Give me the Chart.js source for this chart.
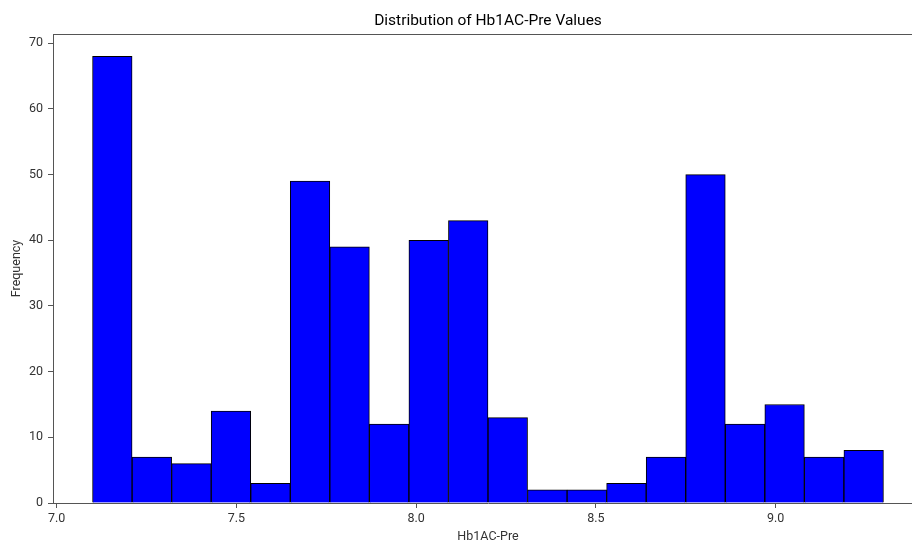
<!DOCTYPE html>
<html lang="en">
<head>
    <meta charset="UTF-8">
    <title>Distribution of Hb1AC-Pre Values</title>
    <script src="https://cdn.jsdelivr.net/npm/chart.js"></script>
    <style>
        html, body { margin: 0; padding: 0; overflow: hidden; background: #fff; }
    </style>
</head>
<body>
    <canvas id="histChart" width="976" height="545"></canvas>

    <script>
        // histogram bins (edges) and counts
        const binEdges = [7.10, 7.21, 7.32, 7.43, 7.54, 7.65, 7.76, 7.87, 7.98, 8.09, 8.20,
                          8.31, 8.42, 8.53, 8.64, 8.75, 8.86, 8.97, 9.08, 9.19, 9.30];
        const counts = [68, 7, 6, 14, 3, 49, 39, 12, 40, 43, 13, 2, 2, 3, 7, 50, 12, 15, 7, 8];
        const xTicks = [7.0, 7.5, 8.0, 8.5, 9.0];
        const yTicks = [0, 10, 20, 30, 40, 50, 60, 70];

        const axisColor = '#555';
        const textColor = '#333';
        const fontFamily = 'Roboto';

        const points = counts.map((c, i) => ({ x: (binEdges[i] + binEdges[i + 1]) / 2, y: c }));

        // top spine (matplotlib box)
        const topSpine = {
            id: 'topSpine',
            afterDraw(chart) {
                const { ctx, chartArea } = chart;
                ctx.save();
                ctx.strokeStyle = axisColor;
                ctx.lineWidth = 1;
                ctx.beginPath();
                ctx.moveTo(chartArea.left, chartArea.top + 0.5);
                ctx.lineTo(chartArea.right, chartArea.top + 0.5);
                ctx.stroke();
                ctx.restore();
            }
        };

        const ctx = document.getElementById('histChart').getContext('2d');
        new Chart(ctx, {
            type: 'bar',
            data: {
                datasets: [{
                    data: points,
                    backgroundColor: '#0000ff',
                    borderColor: '#000',
                    borderWidth: 1,
                    barPercentage: 1,
                    categoryPercentage: 1
                }]
            },
            options: {
                responsive: false,
                animation: false,
                layout: { padding: 0 },
                plugins: {
                    legend: { display: false },
                    tooltip: { enabled: false },
                    title: {
                        display: true,
                        text: 'Distribution of Hb1AC-Pre Values',
                        color: '#000',
                        font: { family: fontFamily, size: 15.5, weight: 'normal' },
                        padding: { top: 12, bottom: 3.4 }
                    }
                },
                scales: {
                    x: {
                        type: 'linear',
                        min: 6.99,
                        max: 9.41,
                        offset: false,
                        afterBuildTicks: s => { s.ticks = xTicks.map(v => ({ value: v })); },
                        afterFit: s => { s.height = 42; },
                        ticks: {
                            color: textColor,
                            font: { family: fontFamily, size: 12.5 },
                            padding: 3,
                            maxRotation: 0,
                            callback: v => Number(v).toFixed(1)
                        },
                        grid: { offset: false, drawOnChartArea: false, drawTicks: true, tickLength: 5, tickColor: axisColor },
                        border: { display: true, color: axisColor, width: 1 },
                        title: {
                            display: true,
                            text: 'Hb1AC-Pre',
                            color: textColor,
                            font: { family: fontFamily, size: 12.5 },
                            padding: { top: 1, bottom: 1 }
                        }
                    },
                    y: {
                        min: 0,
                        max: 71.4,
                        afterBuildTicks: s => { s.ticks = yTicks.map(v => ({ value: v })); },
                        afterFit: s => { s.width = 53; },
                        ticks: {
                            color: textColor,
                            font: { family: fontFamily, size: 12.5 },
                            padding: 5
                        },
                        grid: { drawOnChartArea: false, drawTicks: true, tickLength: 5, tickColor: axisColor },
                        border: { display: true, color: axisColor, width: 1 },
                        title: {
                            display: true,
                            text: 'Frequency',
                            color: textColor,
                            font: { family: fontFamily, size: 12.5 },
                            padding: { top: 9, bottom: 0 }
                        }
                    },
                    // empty right margin so the title stays centred over the plot
                    yRight: {
                        position: 'right',
                        display: true,
                        afterFit: s => { s.width = 53; },
                        ticks: { display: false },
                        grid: { display: false },
                        border: { display: false }
                    }
                }
            },
            plugins: [topSpine]
        });
    </script>
</body>
</html>
